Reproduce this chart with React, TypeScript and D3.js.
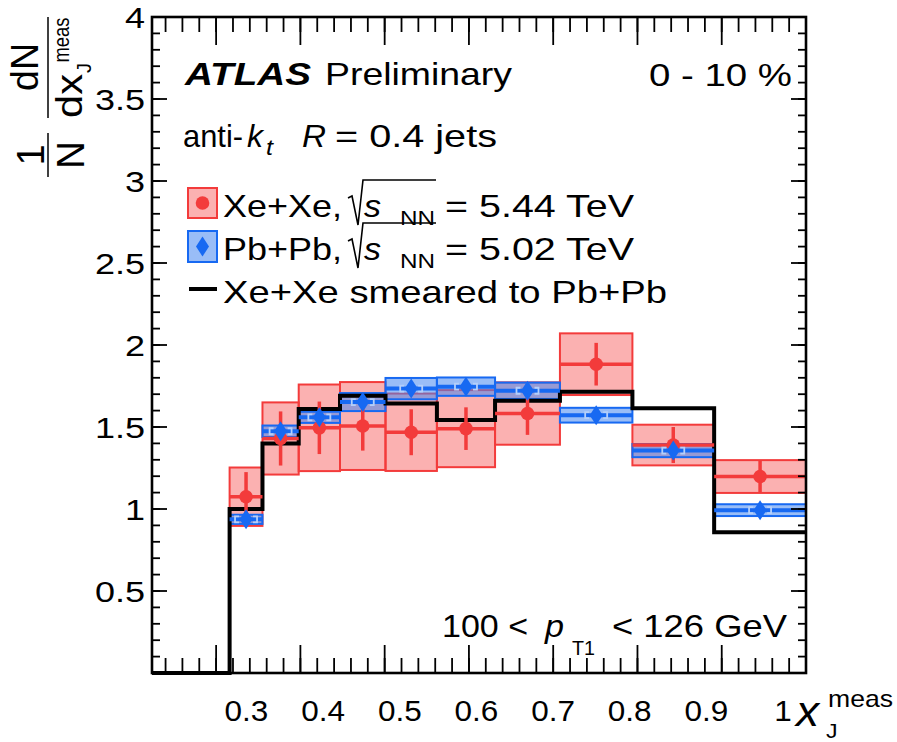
import React from "react";
import * as d3 from "d3";

// ---- data ----
const BIN_EDGES = [0.316, 0.355, 0.398, 0.447, 0.501, 0.562, 0.631, 0.708, 0.794, 0.891, 1.0];
const XE_VAL = [1.075, 1.43, 1.495, 1.506, 1.468, 1.49, 1.582, 1.883, 1.39, 1.198];
const XE_STAT = [0.15, 0.165, 0.16, 0.15, 0.14, 0.13, 0.13, 0.13, 0.11, 0.1];
const XE_SYS = [0.178, 0.22, 0.264, 0.268, 0.236, 0.235, 0.19, 0.188, 0.124, 0.1];
const PB_VAL = [0.937, 1.474, 1.559, 1.652, 1.734, 1.746, 1.721, 1.572, 1.356, 0.993];
const PB_STAT = [0.012, 0.018, 0.018, 0.018, 0.018, 0.018, 0.018, 0.018, 0.015, 0.012];
const PB_SYS = [0.028, 0.035, 0.034, 0.055, 0.065, 0.056, 0.05, 0.045, 0.04, 0.036];
const SMEARED = [1.0, 1.4, 1.61, 1.69, 1.644, 1.543, 1.66, 1.715, 1.614, 0.858];
const X_DOMAIN = [0.2239, 1.0];
const Y_DOMAIN = [0, 4];
const X_TICK_LABELS = [0.3, 0.4, 0.5, 0.6, 0.7, 0.8, 0.9, 1.0];
const Y_TICK_LABELS = [0.5, 1, 1.5, 2, 2.5, 3, 3.5, 4];

const FONT = "'Liberation Sans', Arial, Helvetica, sans-serif";
const RED = "#f33b3b";
const RED_FILL = "rgba(245,70,70,0.42)";
const BLUE = "#1769f2";
const BLUE_FILL = "rgba(70,135,240,0.55)";
const BLUE_LIGHT = "#b4cffa";

const L = 152, R = 806, T = 17, B = 673;

function Txt({ x, y, size = 32, sx = 1.2, len, anchor = "start", italic = false, bold = false, children }: any) {
  const common = {
    fontFamily: FONT,
    fontSize: size,
    textAnchor: anchor,
    fontStyle: italic ? "italic" : "normal",
    fontWeight: bold ? "bold" : "normal",
    fill: "#000",
    style: { whiteSpace: "pre" as const },
  };
  if (len) {
    return (
      <text x={x} y={y} textLength={len} lengthAdjust="spacingAndGlyphs" {...common}>
        {children}
      </text>
    );
  }
  return (
    <text transform={`translate(${x},${y}) scale(${sx},1)`} {...common}>
      {children}
    </text>
  );
}

function VTxt({ x, y, size = 36, len, children }: any) {
  return (
    <text
      transform={`translate(${x},${y}) rotate(-90)`}
      fontFamily={FONT}
      fontSize={size}
      textAnchor="middle"
      textLength={len}
      lengthAdjust="spacingAndGlyphs"
      fill="#000"
    >
      {children}
    </text>
  );
}

export default function App() {
  const x = d3.scaleLinear().domain(X_DOMAIN).range([L, R]);
  const y = d3.scaleLinear().domain(Y_DOMAIN).range([B, T]);
  // tick labels in the original are placed on their own (compressed) grid
  const xl = d3.scaleLinear().domain([0.3, 1.0]).range([246.5, 783]);

  const bins = XE_VAL.map((_, i) => ({
    x0: BIN_EDGES[i],
    x1: BIN_EDGES[i + 1],
    xc: (BIN_EDGES[i] + BIN_EDGES[i + 1]) / 2,
  }));

  const stepPts: [number, number][] = [[X_DOMAIN[0], 0]];
  SMEARED.forEach((v, i) => stepPts.push([BIN_EDGES[i], v]));
  stepPts.push([BIN_EDGES[BIN_EDGES.length - 1], SMEARED[SMEARED.length - 1]]);
  const stepPath = d3
    .line<[number, number]>()
    .x((d) => x(d[0]))
    .y((d) => y(d[1]))
    .curve(d3.curveStepAfter)(stepPts) as string;

  const xMajor = d3.range(3, 11).map((k) => k / 10);
  const xMinor = d3.range(12, 51).map((k) => k / 50).filter((v) => v > X_DOMAIN[0] && v < 1.0);
  const yMajor = d3.range(1, 8).map((k) => k / 2);
  const yMinor = d3.range(1, 40).map((k) => k / 10);

  const diamond = (cx: number, cy: number, w = 6.5, h = 10) =>
    `M${cx},${cy - h}L${cx + w},${cy}L${cx},${cy + h}L${cx - w},${cy}Z`;

  // legend rows (baselines)
  const lg1 = 217, lg2 = 260, lg3 = 303;
  const radical = (x0: number, b: number) =>
    `M${x0},${b - 19}L${x0 + 4},${b - 21}L${x0 + 10},${b + 8}L${x0 + 15},${b - 37}H${x0 + 88}`;

  return (
    <svg
      width={897}
      height={742}
      style={{ position: "absolute", left: 0, top: 0, background: "#fff" }}
    >
      <rect x={0} y={0} width={897} height={742} fill="#fff" />

      {/* Xe+Xe systematic boxes */}
      {bins.map((b, i) => (
        <rect
          key={"rs" + i}
          x={x(b.x0)}
          width={x(b.x1) - x(b.x0)}
          y={y(XE_VAL[i] + XE_SYS[i])}
          height={y(XE_VAL[i] - XE_SYS[i]) - y(XE_VAL[i] + XE_SYS[i])}
          fill={RED_FILL}
          stroke={RED}
          strokeWidth={2}
        />
      ))}
      {/* Pb+Pb systematic boxes */}
      {bins.map((b, i) => (
        <rect
          key={"bs" + i}
          x={x(b.x0)}
          width={x(b.x1) - x(b.x0)}
          y={y(PB_VAL[i] + PB_SYS[i])}
          height={y(PB_VAL[i] - PB_SYS[i]) - y(PB_VAL[i] + PB_SYS[i])}
          fill={BLUE_FILL}
          stroke={BLUE}
          strokeWidth={2}
        />
      ))}

      {/* smeared histogram */}
      <path d={stepPath} fill="none" stroke="#000" strokeWidth={4} />

      {/* Xe+Xe points */}
      {bins.map((b, i) => (
        <g key={"rp" + i}>
          <line x1={x(b.x0)} x2={x(b.x1)} y1={y(XE_VAL[i])} y2={y(XE_VAL[i])} stroke={RED} strokeWidth={3.5} />
          <line
            x1={x(b.xc)}
            x2={x(b.xc)}
            y1={y(XE_VAL[i] - XE_STAT[i])}
            y2={y(XE_VAL[i] + XE_STAT[i])}
            stroke={RED}
            strokeWidth={3.5}
          />
          <circle cx={x(b.xc)} cy={y(XE_VAL[i])} r={6.8} fill={RED} />
        </g>
      ))}

      {/* Pb+Pb points */}
      {bins.map((b, i) => {
        const cx = x(b.xc);
        const cy = y(PB_VAL[i]);
        const s = Math.max(3, y(PB_VAL[i] - PB_STAT[i]) - cy);
        return (
          <g key={"bp" + i}>
            <line x1={x(b.x0)} x2={x(b.x1)} y1={cy} y2={cy} stroke={BLUE} strokeWidth={4} />
            <path
              d={`M${cx - 7},${cy - s}H${cx - 11}V${cy + s}H${cx - 7}M${cx + 7},${cy - s}H${cx + 11}V${cy + s}H${cx + 7}`}
              fill="none"
              stroke={BLUE_LIGHT}
              strokeWidth={1.8}
            />
            <path d={diamond(cx, cy)} fill={BLUE} />
          </g>
        );
      })}

      {/* frame */}
      <rect x={L} y={T} width={R - L} height={B - T} fill="none" stroke="#000" strokeWidth={2.6} />

      {/* x ticks (bottom & top) */}
      {xMajor.map((v) => (
        <g key={"xm" + v}>
          <line x1={x(v)} x2={x(v)} y1={B} y2={B - 28} stroke="#000" strokeWidth={1.8} />
          <line x1={x(v)} x2={x(v)} y1={T} y2={T + 28} stroke="#000" strokeWidth={1.8} />
        </g>
      ))}
      {xMinor.map((v) => (
        <g key={"xn" + v}>
          <line x1={x(v)} x2={x(v)} y1={B} y2={B - 15} stroke="#000" strokeWidth={1.8} />
          <line x1={x(v)} x2={x(v)} y1={T} y2={T + 15} stroke="#000" strokeWidth={1.8} />
        </g>
      ))}
      {/* y ticks (left & right) */}
      {yMajor.map((v) => (
        <g key={"ym" + v}>
          <line x1={L} x2={L + 15} y1={y(v)} y2={y(v)} stroke="#000" strokeWidth={1.8} />
          <line x1={R} x2={R - 15} y1={y(v)} y2={y(v)} stroke="#000" strokeWidth={1.8} />
        </g>
      ))}
      {yMinor.map((v) => (
        <g key={"yn" + v}>
          <line x1={L} x2={L + 8} y1={y(v)} y2={y(v)} stroke="#000" strokeWidth={1.8} />
          <line x1={R} x2={R - 8} y1={y(v)} y2={y(v)} stroke="#000" strokeWidth={1.8} />
        </g>
      ))}

      {/* tick labels */}
      {X_TICK_LABELS.map((v) => (
        <Txt key={"xl" + v} x={xl(v)} y={721} size={30} sx={1.05} anchor="middle">
          {d3.format("")(v)}
        </Txt>
      ))}
      {Y_TICK_LABELS.map((v) => (
        <Txt key={"yl" + v} x={145} y={y(v) + 11} size={30} sx={1.2} anchor="end">
          {d3.format("")(v)}
        </Txt>
      ))}

      {/* x axis title */}
      <Txt x={796} y={726} size={42} sx={1.1} italic>x</Txt>
      <Txt x={828} y={707} size={24} len={65}>meas</Txt>
      <Txt x={826} y={738} size={21} sx={1.1}>J</Txt>

      {/* y axis title (rotated) */}
      <g>
        <VTxt x={38} y={67} size={38} len={48}>dN</VTxt>
        <line x1={48} x2={48} y1={17} y2={118} stroke="#000" strokeWidth={1.5} />
        <VTxt x={82} y={96} len={44}>dx</VTxt>
        <VTxt x={69} y={40} size={22} len={45}>meas</VTxt>
        <VTxt x={91} y={68} size={20}>J</VTxt>
        <VTxt x={44} y={155} size={38}>1</VTxt>
        <line x1={48} x2={48} y1={133} y2={177} stroke="#000" strokeWidth={1.5} />
        <VTxt x={84} y={155} size={38} len={28}>N</VTxt>
      </g>

      {/* labels */}
      <Txt x={185} y={85} len={126} bold italic>ATLAS</Txt>
      <Txt x={325} y={85} len={187}>Preliminary</Txt>
      <Txt x={649} y={86} len={143}>0 - 10 %</Txt>

      <Txt x={183} y={147} len={60}>anti-</Txt>
      <Txt x={247} y={147} len={16} italic>k</Txt>
      <Txt x={266} y={155} size={22} len={7} italic>t</Txt>
      <Txt x={302} y={147} len={24} italic>R</Txt>
      <Txt x={335} y={147} len={162}>= 0.4 jets</Txt>

      {/* legend */}
      <rect x={188} y={188} width={29} height={30} fill={RED_FILL} stroke={RED} strokeWidth={2} />
      <circle cx={202.5} cy={203} r={6.8} fill={RED} />
      <Txt x={223} y={lg1} len={119}>Xe+Xe,</Txt>
      <path d={radical(348, lg1)} fill="none" stroke="#000" strokeWidth={1.6} />
      <Txt x={364} y={lg1} len={17} italic>s</Txt>
      <Txt x={400} y={lg1 + 8} size={20} len={35}>NN</Txt>
      <Txt x={445} y={lg1} len={189}>= 5.44 TeV</Txt>

      <rect x={188} y={231} width={29} height={31} fill={BLUE_FILL} stroke={BLUE} strokeWidth={2} />
      <path d={diamond(202.5, 246.5)} fill={BLUE} />
      <Txt x={223} y={lg2} len={119}>Pb+Pb,</Txt>
      <path d={radical(348, lg2)} fill="none" stroke="#000" strokeWidth={1.6} />
      <Txt x={364} y={lg2} len={17} italic>s</Txt>
      <Txt x={400} y={lg2 + 8} size={20} len={35}>NN</Txt>
      <Txt x={445} y={lg2} len={189}>= 5.02 TeV</Txt>

      <line x1={189} x2={217} y1={lg3 - 14} y2={lg3 - 14} stroke="#000" strokeWidth={4} />
      <Txt x={223} y={lg3} len={444}>Xe+Xe smeared to Pb+Pb</Txt>

      {/* kinematic selection */}
      <Txt x={442} y={637} len={86}>100 &lt;</Txt>
      <Txt x={545} y={637} len={19} italic>p</Txt>
      <Txt x={572} y={655} size={20} len={23}>T1</Txt>
      <Txt x={612} y={637} len={175}>&lt; 126 GeV</Txt>
    </svg>
  );
}
